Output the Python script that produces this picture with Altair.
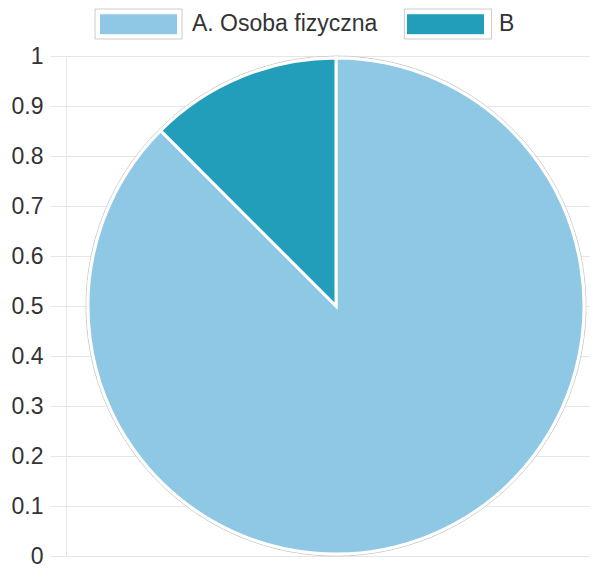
import altair as alt
import pandas as pd

# ---- data ----
categories = ["A. Osoba fizyczna", "B"]
counts = [7, 1]
slice_colors = ["#8fc8e4", "#239eba"]
y_ticks = [0, 0.1, 0.2, 0.3, 0.4, 0.5, 0.6, 0.7, 0.8, 0.9, 1]

pie_df = pd.DataFrame({"name": categories, "name2": categories, "value": counts})
tick_df = pd.DataFrame({"v": y_ticks})

# ---- layout / style ----
W, H = 524, 500
CX, CY = 270, 250
R = 248
FONT = "Liberation Sans"
TEXT = "#333333"
GRID = "#e6e6e6"
FS = 23

SYM_SIZE = 7569  # sqrt -> 87 px wide symbol box
outer_box = "M-1,-0.3448H1V0.3448H-1Z"
inner_box = "M-0.8966,-0.2414H0.8966V0.2414H-0.8966Z"
LEG_X, LEG_Y = 28.5, -76
LABEL_OFF = 9.5
COL_PAD = 24
LABEL_A_W = 185.4  # rendered width of the first legend label

common_legend = dict(
    orient="none", legendX=LEG_X, legendY=LEG_Y, direction="horizontal",
    title=None, symbolSize=SYM_SIZE, symbolStrokeWidth=1,
    labelFont=FONT, labelFontSize=FS, labelLimit=500, labelOffset=LABEL_OFF,
    padding=0,
)

axis_layer = alt.Chart(tick_df).mark_point(opacity=0).encode(
    y=alt.Y(
        "v:Q",
        scale=alt.Scale(domain=[0, 1], nice=False, zero=False),
        axis=alt.Axis(
            values=y_ticks, format=".1~f", title=None, grid=True,
            gridColor=GRID, gridWidth=1, domainColor=GRID, domainWidth=1,
            tickColor=GRID, tickSize=16, tickWidth=1, labelPadding=7,
            labelFont=FONT, labelFontSize=FS, labelColor=TEXT,
            labelFlush=False, labelOverlap=False,
        ),
    )
)

# thin grey outline around the pie + grey-bordered legend boxes (no labels)
ring = alt.Chart(pie_df).mark_arc(filled=False, radius=R + 2, strokeWidth=1).encode(
    theta=alt.Theta("value:Q"),
    stroke=alt.Stroke(
        "name2:N",
        scale=alt.Scale(range=["#cccccc", "#cccccc"]),
        legend=alt.Legend(symbolType=outer_box, labelExpr="''",
                          columnPadding=COL_PAD + LABEL_A_W,
                          symbolFillColor="transparent", **common_legend),
    ),
    x=alt.value(CX),
    y=alt.value(CY),
)

pie = alt.Chart(pie_df).mark_arc(radius=R, stroke="white", strokeWidth=3).encode(
    theta=alt.Theta("value:Q"),
    color=alt.Color(
        "name:N",
        scale=alt.Scale(domain=categories, range=slice_colors),
        legend=alt.Legend(symbolType=inner_box, labelColor=TEXT,
                          columnPadding=COL_PAD, **common_legend),
    ),
    order=alt.Order("name:N"),
    x=alt.value(CX),
    y=alt.value(CY),
)

chart = (
    alt.layer(axis_layer, ring, pie)
    .properties(
        width=W, height=H,
        padding={"left": 58, "top": 48, "right": 0, "bottom": 13},
        autosize=alt.AutoSizeParams(type="none"),
    )
    .configure_view(strokeWidth=0)
)

chart.save("out.html", embed_options={"renderer": "svg", "actions": False})
